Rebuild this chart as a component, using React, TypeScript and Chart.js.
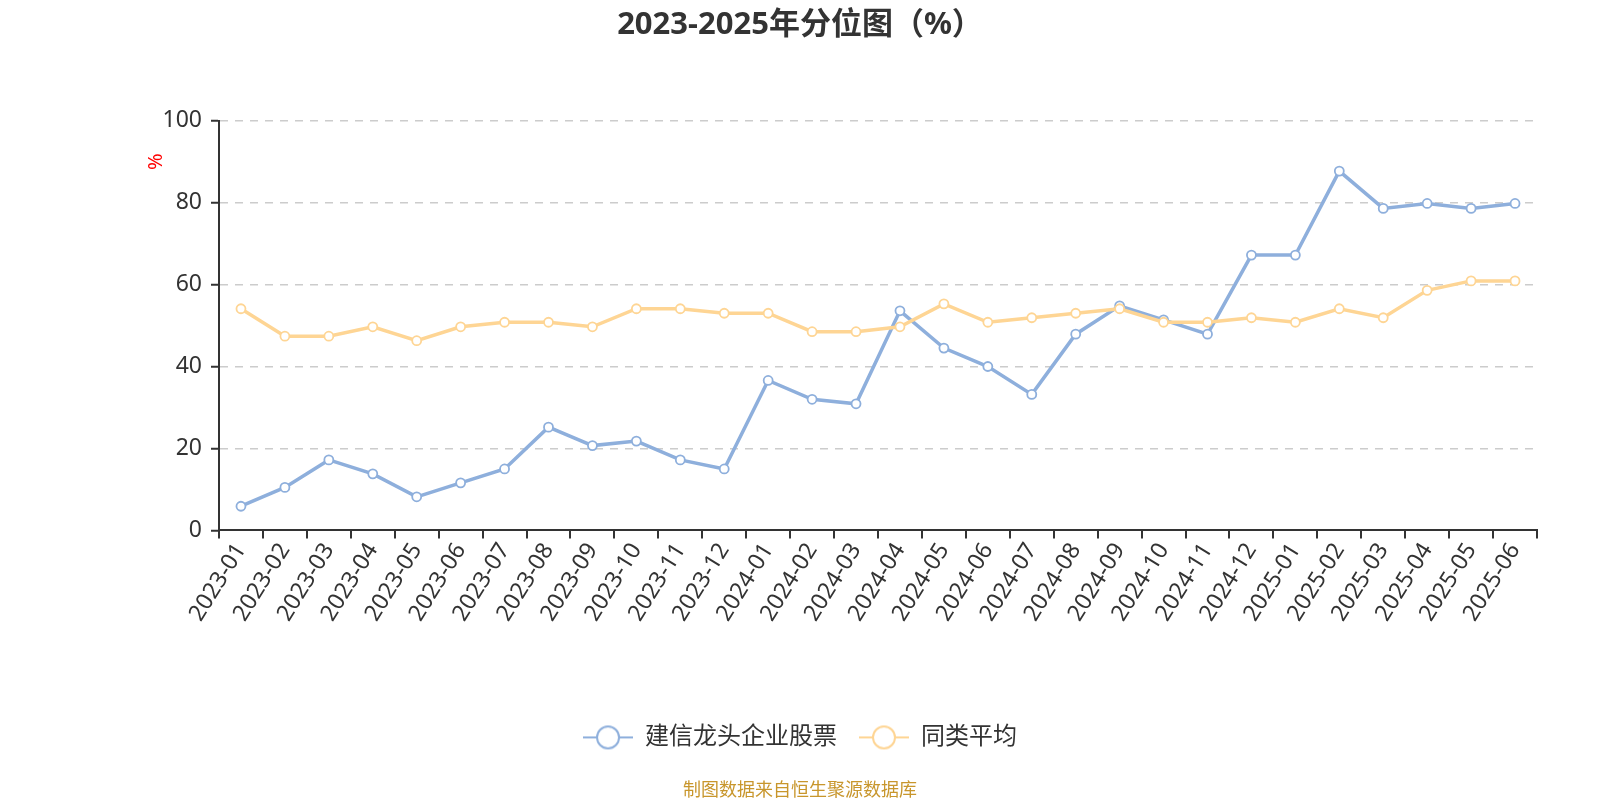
import React, { useEffect, useRef } from "react";
import { Chart, registerables } from "chart.js";

Chart.register(...registerables);

const categories = [
  "2023-01", "2023-02", "2023-03", "2023-04", "2023-05", "2023-06",
  "2023-07", "2023-08", "2023-09", "2023-10", "2023-11", "2023-12",
  "2024-01", "2024-02", "2024-03", "2024-04", "2024-05", "2024-06",
  "2024-07", "2024-08", "2024-09", "2024-10", "2024-11", "2024-12",
  "2025-01", "2025-02", "2025-03", "2025-04", "2025-05", "2025-06",
];

const fundValues = [
  5.9, 10.5, 17.2, 13.8, 8.2, 11.6, 15.0, 25.2, 20.7, 21.8, 17.2, 15.0,
  36.6, 32.0, 30.9, 53.6, 44.5, 40.0, 33.2, 47.9, 54.8, 51.4, 47.9, 67.2,
  67.2, 87.7, 78.6, 79.8, 78.6, 79.8,
];

const avgValues = [
  54.1, 47.4, 47.4, 49.7, 46.3, 49.7, 50.8, 50.8, 49.7, 54.1, 54.1, 53.0,
  53.0, 48.5, 48.5, 49.7, 55.3, 50.8, 51.9, 53.0, 54.1, 50.8, 50.8, 51.9,
  50.8, 54.1, 51.9, 58.6, 60.9, 60.9,
];

const seriesNames = ["建信龙头企业股票", "同类平均"];
const seriesColors = ["#8eafdc", "#fed594"];
const yTicks = { min: 0, max: 100, step: 20 };
const titleText = "2023-2025年分位图（%）";
const sourceText = "制图数据来自恒生聚源数据库";
const yUnit = "%";

const FONT = '"Noto Sans", "Noto Sans CJK SC", sans-serif';

function makeLegendIcon(color: string): HTMLCanvasElement {
  const c = document.createElement("canvas");
  c.width = 50;
  c.height = 26;
  const g = c.getContext("2d")!;
  g.strokeStyle = color;
  g.lineWidth = 2;
  g.beginPath();
  g.moveTo(0, 13);
  g.lineTo(50, 13);
  g.stroke();
  g.beginPath();
  g.arc(25, 13, 11, 0, Math.PI * 2);
  g.fillStyle = "#ffffff";
  g.fill();
  g.lineWidth = 2;
  g.stroke();
  return c;
}

const unitLabelPlugin = {
  id: "unitLabel",
  afterDraw(chart: any) {
    const { ctx, chartArea } = chart;
    ctx.save();
    ctx.translate(chartArea.left - 63, chartArea.top + 41);
    ctx.rotate(-Math.PI / 2);
    ctx.fillStyle = "#ff0000";
    ctx.font = `20px ${FONT}`;
    ctx.textAlign = "center";
    ctx.textBaseline = "middle";
    ctx.fillText(yUnit, 0, 0);
    ctx.restore();
  },
};

export default function App() {
  const ref = useRef<HTMLCanvasElement | null>(null);

  useEffect(() => {
    if (!ref.current) return;
    const icons = seriesColors.map(makeLegendIcon);
    const chart = new Chart(ref.current, {
      type: "line",
      data: {
        labels: categories,
        datasets: [
          {
            label: seriesNames[0],
            data: fundValues,
            borderColor: seriesColors[0],
            backgroundColor: seriesColors[0],
            borderWidth: 3.5,
            pointRadius: 4.5,
            pointBorderWidth: 1.8,
            pointBackgroundColor: "#ffffff",
            pointBorderColor: seriesColors[0],
            tension: 0,
            order: 1,
          },
          {
            label: seriesNames[1],
            data: avgValues,
            borderColor: seriesColors[1],
            backgroundColor: seriesColors[1],
            borderWidth: 3.5,
            pointRadius: 4.5,
            pointBorderWidth: 1.8,
            pointBackgroundColor: "#ffffff",
            pointBorderColor: seriesColors[1],
            tension: 0,
            order: 0,
          },
        ],
      },
      options: {
        responsive: false,
        animation: false,
        layout: { padding: { left: 0, right: 0, top: 0, bottom: 0 } },
        plugins: {
          tooltip: { enabled: false },
          title: {
            display: true,
            text: titleText,
            color: "#333333",
            font: { family: FONT, size: 31, weight: "bold" },
            padding: { top: 7, bottom: 76.5 },
          },
          subtitle: {
            display: true,
            position: "bottom",
            text: sourceText,
            color: "#c8962c",
            font: { family: FONT, size: 18, weight: "normal", lineHeight: 1.0 },
            padding: { top: 22.6, bottom: 0 },
          },
          legend: {
            display: true,
            position: "bottom",
            labels: {
              usePointStyle: true,
              pointStyleWidth: 50,
              padding: 22,
              color: "#333333",
              font: { family: FONT, size: 24 },
              generateLabels: (ch: any) =>
                ch.data.datasets.map((ds: any, i: number) => ({
                  text: ds.label,
                  fillStyle: "#fff",
                  strokeStyle: seriesColors[i],
                  lineWidth: 0,
                  pointStyle: icons[i],
                  hidden: !ch.isDatasetVisible(i),
                  datasetIndex: i,
                  fontColor: "#333333",
                })),
            },
          },
        },
        scales: {
          x: {
            type: "category",
            offset: true,
            grid: {
              display: true,
              drawOnChartArea: false,
              drawTicks: true,
              tickLength: 8,
              offset: true,
              color: "#333333",
              lineWidth: 2,
            },
            border: { display: true, color: "#333333", width: 2 },
            ticks: {
              autoSkip: false,
              minRotation: 58,
              maxRotation: 58,
              padding: 0,
              color: "#333333",
              font: { family: FONT, size: 23 },
            },
            afterFit: (scale: any) => {
              scale.height = 173;
            },
          },
          y: {
            min: yTicks.min,
            max: yTicks.max,
            grid: {
              display: true,
              drawTicks: true,
              tickLength: 8,
              color: (c: any) =>
                c.tick && c.tick.value === 0 ? "rgba(0,0,0,0)" : "#cccccc",
              lineWidth: 1.5,
              tickColor: "#333333",
              tickWidth: 2,
            },
            border: { display: true, color: "#333333", width: 2, dash: [8, 7] },
            ticks: {
              stepSize: yTicks.step,
              padding: 9,
              color: "#333333",
              font: { family: FONT, size: 23 },
            },
            afterFit: (scale: any) => {
              scale.width = 219;
            },
          },
          yRight: {
            type: "linear",
            position: "right",
            display: true,
            grid: { display: false, drawTicks: false },
            border: { display: false },
            ticks: { display: false },
            afterFit: (scale: any) => {
              scale.width = 63;
            },
          },
        },
      },
      plugins: [unitLabelPlugin],
    } as any);
    return () => chart.destroy();
  }, []);

  return (
    <div style={{ position: "absolute", left: 0, top: 0, width: 1600, height: 800, background: "#fff" }}>
      <canvas ref={ref} width={1600} height={800} style={{ display: "block", width: 1600, height: 800 }} />
    </div>
  );
}
